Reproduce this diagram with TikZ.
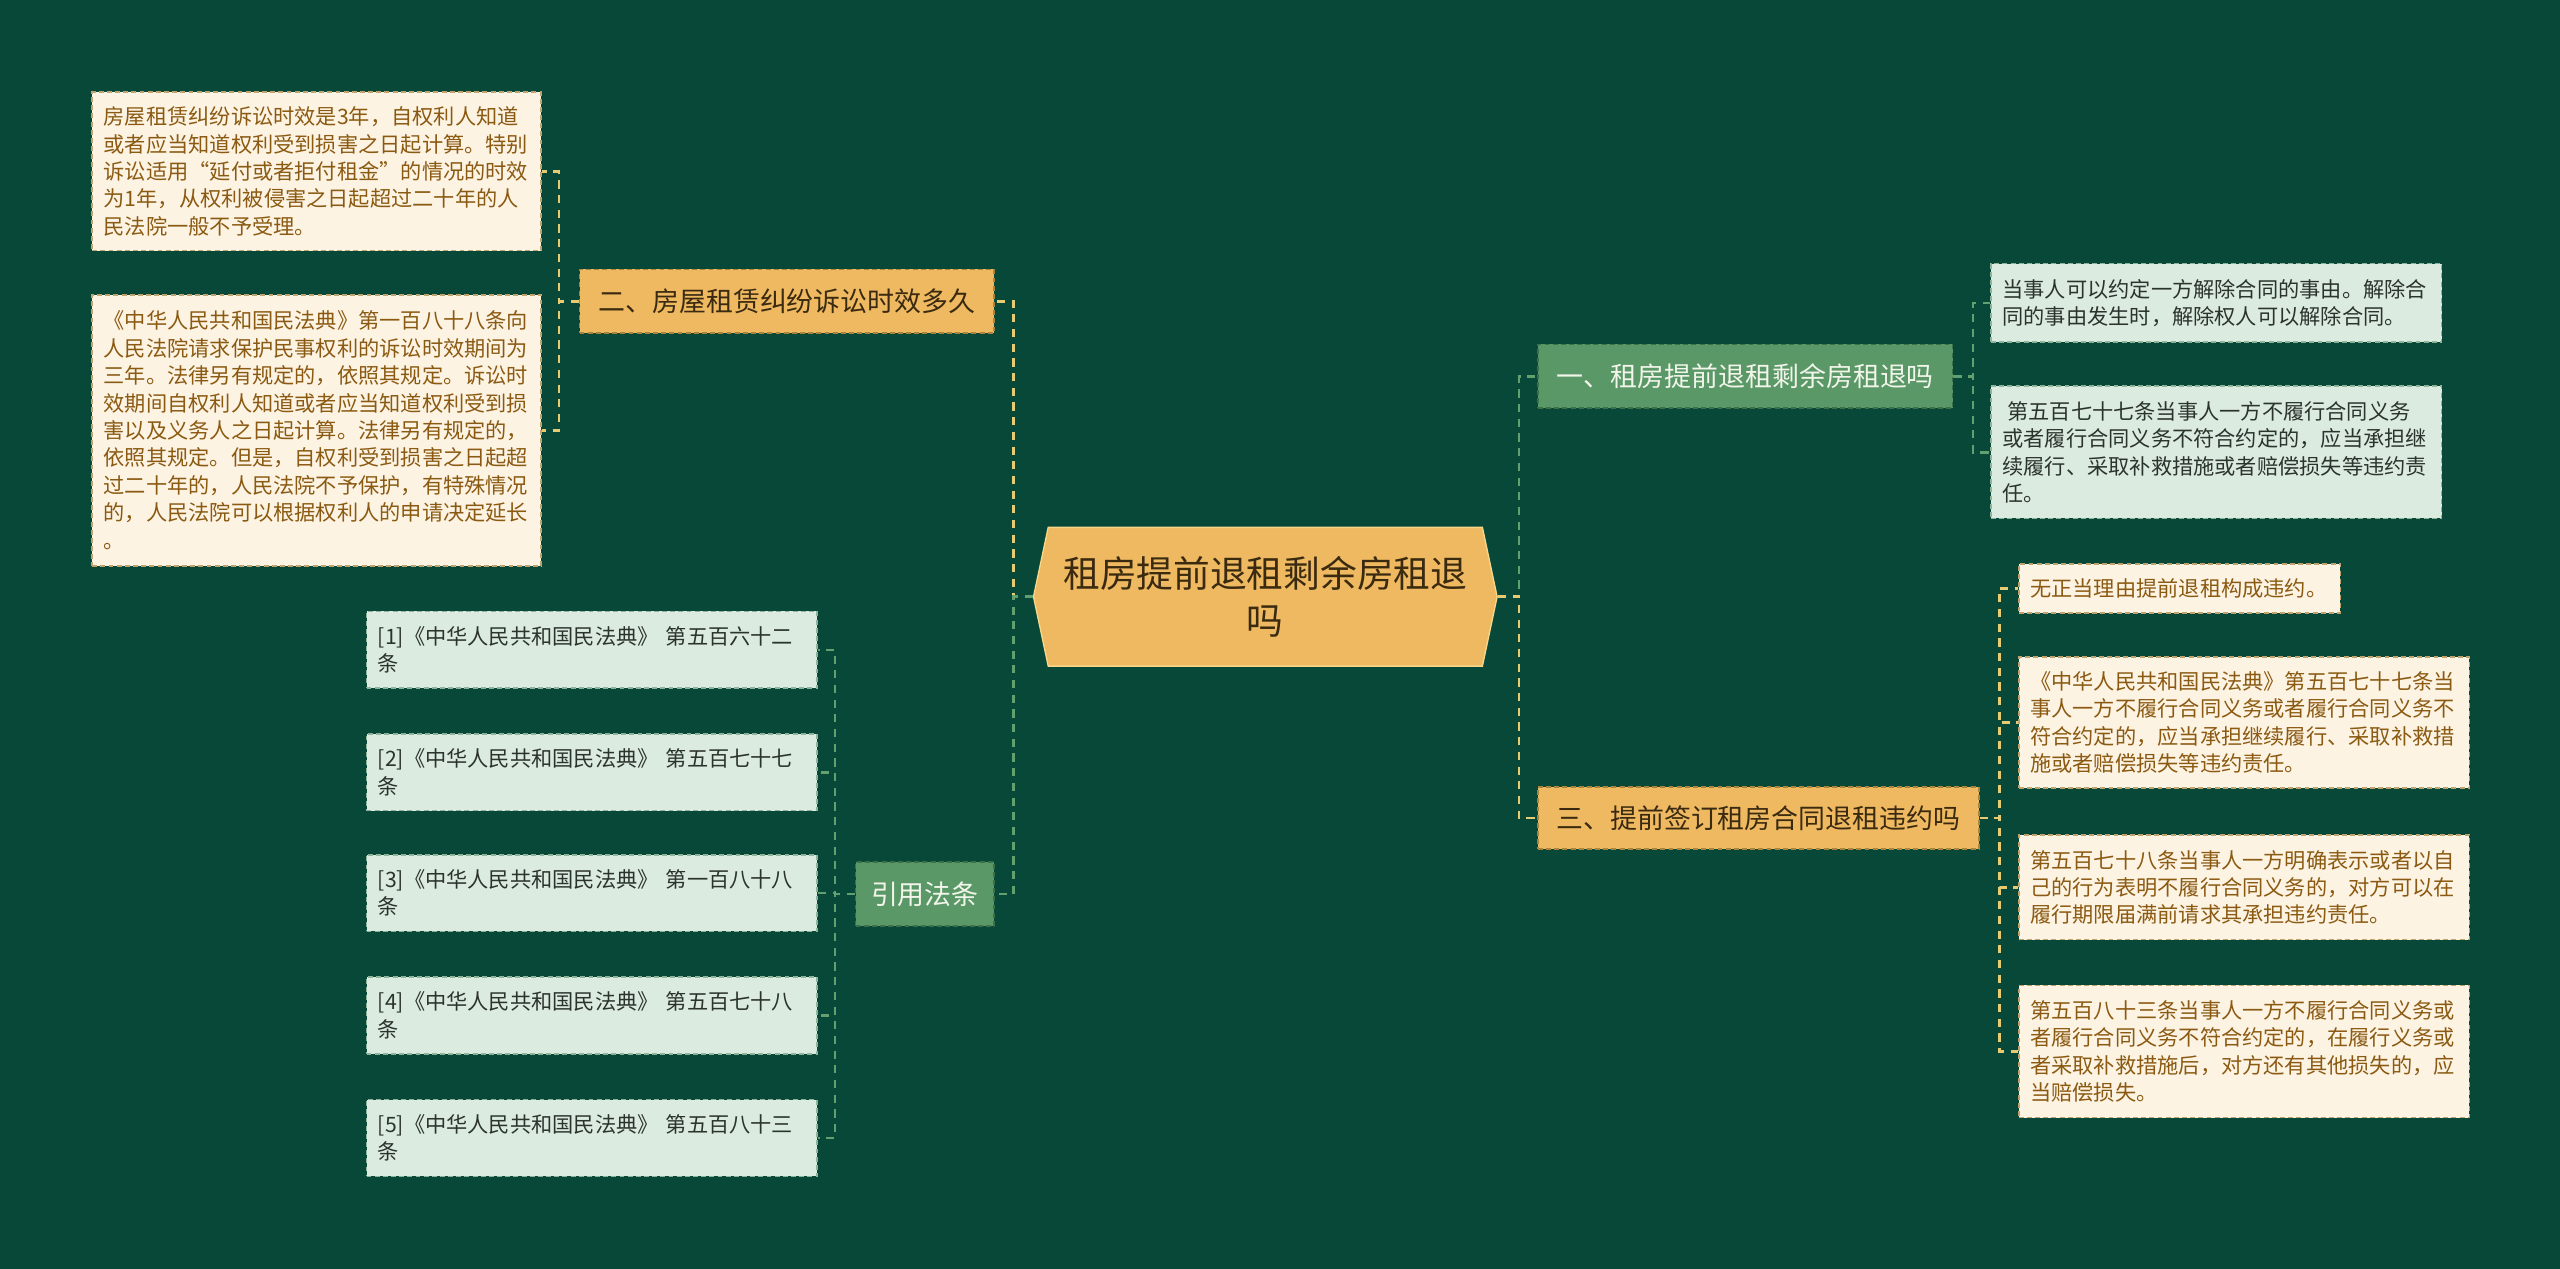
\documentclass[tikz,border=0pt]{standalone}
\usepackage{fontspec}
\setmainfont{Noto Sans CJK SC}
\usetikzlibrary{shapes.symbols}
\definecolor{bgc}{HTML}{084838}
\definecolor{creamfill}{HTML}{FDF3E3}
\definecolor{creamline}{HTML}{BFA36E}
\definecolor{creamtext}{HTML}{8B5A12}
\definecolor{mintfill}{HTML}{DCEBE0}
\definecolor{mintline}{HTML}{8FB39A}
\definecolor{minttext}{HTML}{2B332D}
\definecolor{orfill}{HTML}{EFB961}
\definecolor{orline}{HTML}{A8843C}
\definecolor{ortext}{HTML}{3A2A10}
\definecolor{grfill}{HTML}{5A9868}
\definecolor{grline}{HTML}{3C7049}
\definecolor{grtext}{HTML}{F2F5EA}
\definecolor{conyel}{HTML}{E6CB73}
\definecolor{congrn}{HTML}{62A070}
\definecolor{hexline}{HTML}{F7D78A}
\newcommand{\leaffont}{\fontsize{13}{16.8}\selectfont}
\newcommand{\branchfont}{\fontsize{16.5}{20}\selectfont}
\begin{document}
\begin{tikzpicture}[x=1pt,y=-1pt,
  boxbase/.style={line width=1pt, dash pattern=on 3pt off 2pt, inner ysep=0pt},
  leafcream/.style={boxbase, draw=creamline, fill=creamfill, text=creamtext, font=\leaffont, align=left, anchor=north west, inner xsep=7pt},
  leafmint/.style={boxbase, draw=mintline, fill=mintfill, text=minttext, font=\leaffont, align=left, anchor=north west, inner xsep=7pt},
  orbranch/.style={boxbase, draw=orline, fill=orfill, text=ortext, font=\branchfont, inner xsep=0pt},
  grbranch/.style={boxbase, draw=grline, fill=grfill, text=grtext, font=\branchfont, inner xsep=0pt},
  conyellow/.style={draw=conyel, line width=1.6pt, dash pattern=on 5pt off 4pt},
  congreen/.style={draw=congrn, line width=1.6pt, dash pattern=on 5pt off 4pt}
]
\fill[bgc] (0,0) rectangle (1568,777);
\useasboundingbox (0,0) rectangle (1568,777);

% central node
\node[signal, signal to=east and west, signal pointer angle=156,
      minimum width=284pt, minimum height=85pt, inner sep=0pt,
      fill=orfill, draw=hexline, line width=0.8pt, text=ortext,
      font=\fontsize{22.5}{29}\selectfont, align=center] (c) at (775,365.5)
  {租房提前退租剩余房租退\\吗};

% branches
\node[orbranch, minimum width=254pt, minimum height=39pt] (b2) at (482,184.5) {二、房屋租赁纠纷诉讼时效多久};
\node[grbranch, minimum width=85pt, minimum height=39pt] (bref) at (566.5,547.5) {引用法条};
\node[grbranch, minimum width=254pt, minimum height=39pt] (b1) at (1069,230.5) {一、租房提前退租剩余房租退吗};
\node[orbranch, minimum width=270pt, minimum height=38pt] (b3) at (1077,501) {三、提前签订租房合同退租违约吗};

% leaves of b2
\node[leafcream, text width=261pt, minimum height=97pt] (l1) at (56,56)
{房屋租赁纠纷诉讼时效是3年，自权利人知道\\或者应当知道权利受到损害之日起计算。特别\\诉讼适用“延付或者拒付租金”的情况的时效\\为1年，从权利被侵害之日起超过二十年的人\\民法院一般不予受理。};
\node[leafcream, text width=261pt, minimum height=166pt] (l2) at (56,180)
{《中华人民共和国民法典》第一百八十八条向\\人民法院请求保护民事权利的诉讼时效期间为\\三年。法律另有规定的，依照其规定。诉讼时\\效期间自权利人知道或者应当知道权利受到损\\害以及义务人之日起计算。法律另有规定的，\\依照其规定。但是，自权利受到损害之日起超\\过二十年的，人民法院不予保护，有特殊情况\\的，人民法院可以根据权利人的申请决定延长\\。};

% reference leaves
\node[leafmint, text width=262pt, minimum height=47pt] (r1) at (224,374) {[1]《中华人民共和国民法典》 第五百六十二\\条};
\node[leafmint, text width=262pt, minimum height=47pt] (r2) at (224,449) {[2]《中华人民共和国民法典》 第五百七十七\\条};
\node[leafmint, text width=262pt, minimum height=47pt] (r3) at (224,523) {[3]《中华人民共和国民法典》 第一百八十八\\条};
\node[leafmint, text width=262pt, minimum height=47pt] (r4) at (224,598) {[4]《中华人民共和国民法典》 第五百七十八\\条};
\node[leafmint, text width=262pt, minimum height=47pt] (r5) at (224,673) {[5]《中华人民共和国民法典》 第五百八十三\\条};

% leaves of b1
\node[leafmint, text width=262pt, minimum height=48pt] (a1) at (1219,161)
{当事人可以约定一方解除合同的事由。解除合\\同的事由发生时，解除权人可以解除合同。};
\node[leafmint, text width=262pt, minimum height=81pt] (a2) at (1219,236)
{\hspace{3pt}第五百七十七条当事人一方不履行合同义务\\或者履行合同义务不符合约定的，应当承担继\\续履行、采取补救措施或者赔偿损失等违约责\\任。};

% leaves of b3
\node[leafcream, text width=183pt, minimum height=30pt] (e1) at (1236,345)
{无正当理由提前退租构成违约。};
\node[leafcream, text width=262pt, minimum height=80pt] (e2) at (1236,402)
{《中华人民共和国民法典》第五百七十七条当\\事人一方不履行合同义务或者履行合同义务不\\符合约定的，应当承担继续履行、采取补救措\\施或者赔偿损失等违约责任。};
\node[leafcream, text width=262pt, minimum height=64pt] (e3) at (1236,511)
{第五百七十八条当事人一方明确表示或者以自\\己的行为表明不履行合同义务的，对方可以在\\履行期限届满前请求其承担违约责任。};
\node[leafcream, text width=262pt, minimum height=81pt] (e4) at (1236,603)
{第五百八十三条当事人一方不履行合同义务或\\者履行合同义务不符合约定的，在履行义务或\\者采取补救措施后，对方还有其他损失的，应\\当赔偿损失。};

% connectors: center to branches
\draw[conyellow] (c.west) -- ++(-12,0) |- (b2.east);
\draw[congreen] (c.west) -- ++(-12,0) |- (bref.east);
\draw[congreen] (c.east) -- ++(13,0) |- (b1.west);
\draw[conyellow] (c.east) -- ++(13,0) |- (b3.west);

% b2 to leaves
\draw[conyellow] (b2.west) -- ++(-12,0) |- (l1.east);
\draw[conyellow] (b2.west) -- ++(-12,0) |- (l2.east);

% references
\foreach \r in {r1,r2,r3,r4,r5}
  \draw[congreen] (bref.west) -- ++(-12,0) |- (\r.east);

% b1 to leaves
\draw[congreen] (b1.east) -- ++(12,0) |- (a1.west);
\draw[congreen] (b1.east) -- ++(12,0) |- (a2.west);

% b3 to leaves
\foreach \e in {e1,e2,e3,e4}
  \draw[conyellow] (b3.east) -- ++(12,0) |- (\e.west);
\end{tikzpicture}
\end{document}
